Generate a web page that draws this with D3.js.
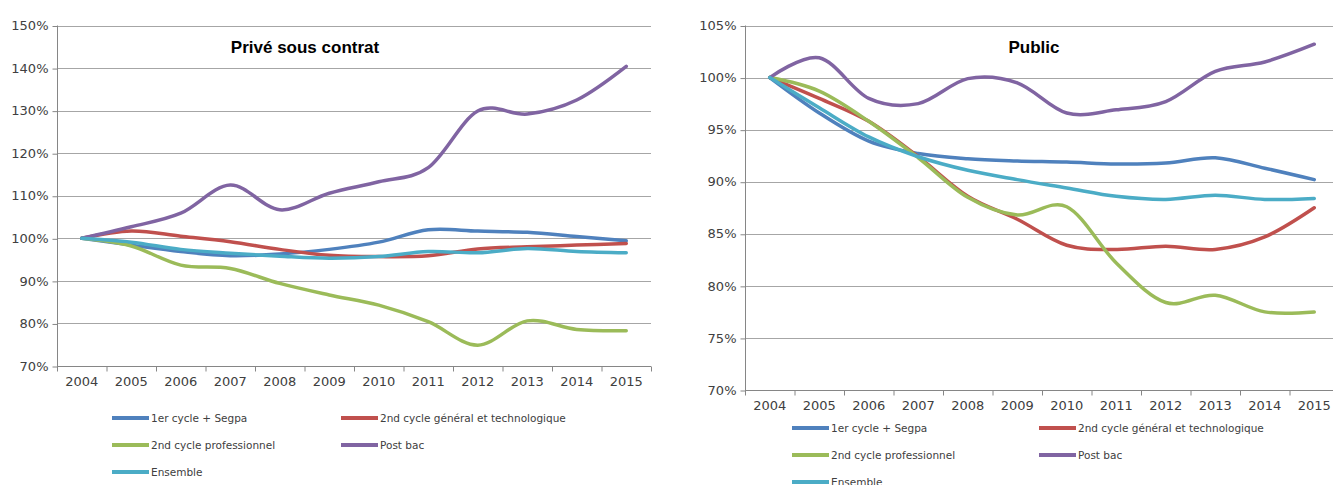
<!DOCTYPE html>
<html><head><meta charset="utf-8">
<script src="https://cdn.jsdelivr.net/npm/d3@7"></script>
<style>
html,body{margin:0;padding:0;background:#fff;}
svg{display:block;}
</style></head>
<body>
<svg id="chart" width="1333" height="485"></svg>
<script>
// ---------- DATA ----------
const years = ["2004","2005","2006","2007","2008","2009","2010","2011","2012","2013","2014","2015"];
const seriesNames = ["1er cycle + Segpa","2nd cycle général et technologique","2nd cycle professionnel","Post bac","Ensemble"];
const seriesColors = ["#4F81BD","#C0504D","#9BBB59","#8064A2","#4BACC6"];

// Privé sous contrat (base 100 en 2004)
const priveCycle1   = [100, 98.4, 96.9, 95.9, 96.3, 97.4, 99.1, 102.0, 101.7, 101.4, 100.4, 99.4];
const priveGT       = [100, 101.7, 100.5, 99.2, 97.4, 96.0, 95.7, 95.9, 97.5, 98.0, 98.4, 98.8];
const privePro      = [100, 98.2, 93.7, 92.9, 89.4, 86.7, 84.3, 80.4, 74.9, 80.6, 78.6, 78.3];
const privePostBac  = [100, 102.7, 105.9, 112.5, 106.7, 110.6, 113.3, 116.6, 129.9, 129.2, 132.5, 140.4];
const priveEnsemble = [100, 99.1, 97.4, 96.5, 95.8, 95.3, 95.7, 96.9, 96.6, 97.6, 96.9, 96.6];

// Public (base 100 en 2004)
const publicCycle1   = [100, 96.6, 93.9, 92.7, 92.2, 92.0, 91.9, 91.7, 91.8, 92.3, 91.3, 90.2];
const publicGT       = [100, 98.0, 95.8, 92.4, 88.6, 86.4, 83.9, 83.5, 83.8, 83.5, 84.7, 87.5];
const publicPro      = [100, 98.7, 95.8, 92.3, 88.5, 86.8, 87.6, 82.2, 78.4, 79.1, 77.5, 77.5];
const publicPostBac  = [100, 101.9, 98.0, 97.5, 99.9, 99.5, 96.6, 96.9, 97.7, 100.6, 101.5, 103.2];
const publicEnsemble = [100, 97.1, 94.3, 92.4, 91.1, 90.2, 89.4, 88.6, 88.3, 88.7, 88.3, 88.4];

const priveTicks  = [70, 80, 90, 100, 110, 120, 130, 140, 150];
const publicTicks = [70, 75, 80, 85, 90, 95, 100, 105];

const priveTitle = "Privé sous contrat";
const publicTitle = "Public";

// ---------- DRAW ----------
const svg = d3.select("#chart");
const FONT = "'DejaVu Sans', sans-serif";

function drawPanel(cfg) {
  const g = svg.append("g");
  const x = d3.scaleBand().domain(years).range([cfg.x0, cfg.x1]);
  const xb = d3.scaleLinear().domain([0, years.length]).range([cfg.x0, cfg.x1]);
  const y = d3.scaleLinear().domain([d3.min(cfg.ticks), d3.max(cfg.ticks)]).range([cfg.yBottom, cfg.yTop]);

  // gridlines
  g.append("g").selectAll("line").data(cfg.ticks.slice(1)).join("line")
    .attr("x1", cfg.x0).attr("x2", cfg.x1)
    .attr("y1", d => Math.round(y(d)) + 0.5).attr("y2", d => Math.round(y(d)) + 0.5)
    .attr("stroke", "#a6a6a6").attr("stroke-width", 1);

  // y axis
  const ya = g.append("g").attr("transform", `translate(${cfg.x0 + 0.5},0)`)
    .call(d3.axisLeft(y).tickValues(cfg.ticks).tickSize(5).tickPadding(4)
      .tickFormat(d => d + "%"));
  ya.select(".domain").attr("stroke", "#868686").attr("d", `M0,${y(cfg.ticks[cfg.ticks.length-1])}V${Math.round(y(cfg.ticks[0]))+0.5}`);
  ya.selectAll(".tick line").attr("stroke", "#868686").attr("y1", 0.5).attr("y2", 0.5);
  ya.selectAll(".tick text").attr("font-family", FONT).attr("font-size", 13).attr("fill", "#404040");

  // x axis: boundary ticks
  const base = Math.round(y(cfg.ticks[0])) + 0.5;
  const xt = g.append("g").attr("transform", `translate(0,${base})`)
    .call(d3.axisBottom(xb).tickValues(d3.range(years.length + 1)).tickSize(5).tickFormat(""));
  xt.select(".domain").attr("stroke", "#868686").attr("d", `M${cfg.x0},0H${cfg.x1}`);
  xt.selectAll(".tick line").attr("stroke", "#868686");
  // x labels
  const xl = g.append("g").attr("transform", `translate(0,${base})`)
    .call(d3.axisBottom(x).tickSize(0).tickPadding(10));
  xl.select(".domain").remove();
  xl.selectAll(".tick text").attr("font-family", FONT).attr("font-size", 13).attr("fill", "#404040");

  // lines
  const line = d3.line()
    .x((d, i) => x(years[i]) + x.bandwidth() / 2)
    .y(d => y(d))
    .curve(d3.curveCardinal.tension(0));
  cfg.series.forEach((s, i) => {
    g.append("path").datum(s)
      .attr("d", line)
      .attr("fill", "none")
      .attr("stroke", seriesColors[i])
      .attr("stroke-width", 3.5)
      .attr("stroke-linecap", "round")
      .attr("stroke-linejoin", "round");
  });

  // title
  g.append("text").attr("x", cfg.titleX).attr("y", cfg.titleY)
    .attr("text-anchor", "middle")
    .attr("font-family", "'Liberation Sans', Arial, sans-serif")
    .attr("font-weight", "bold").attr("font-size", 17).attr("fill", "#000")
    .text(cfg.title);

  // legend
  const order = [0, 1, 2, 3, 4];
  order.forEach((si, k) => {
    const col = k % 2, row = Math.floor(k / 2);
    const lx = cfg.legX[col], ly = cfg.legY + row * 27;
    g.append("line").attr("x1", lx).attr("x2", lx + 37).attr("y1", ly).attr("y2", ly)
      .attr("stroke", seriesColors[si]).attr("stroke-width", 4);
    g.append("text").attr("x", lx + 39).attr("y", ly + 4)
      .attr("font-family", FONT).attr("font-size", 10.5).attr("fill", "#404040")
      .text(seriesNames[si]);
  });
}

drawPanel({
  x0: 57, x1: 651, yTop: 25.5, yBottom: 366,
  ticks: priveTicks,
  series: [priveCycle1, priveGT, privePro, privePostBac, priveEnsemble],
  title: priveTitle, titleX: 305, titleY: 53,
  legX: [112, 341], legY: 418
});

drawPanel({
  x0: 745, x1: 1339, yTop: 25.5, yBottom: 390,
  ticks: publicTicks,
  series: [publicCycle1, publicGT, publicPro, publicPostBac, publicEnsemble],
  title: publicTitle, titleX: 1034, titleY: 53,
  legX: [792, 1039], legY: 428
});
</script>
</body></html>
